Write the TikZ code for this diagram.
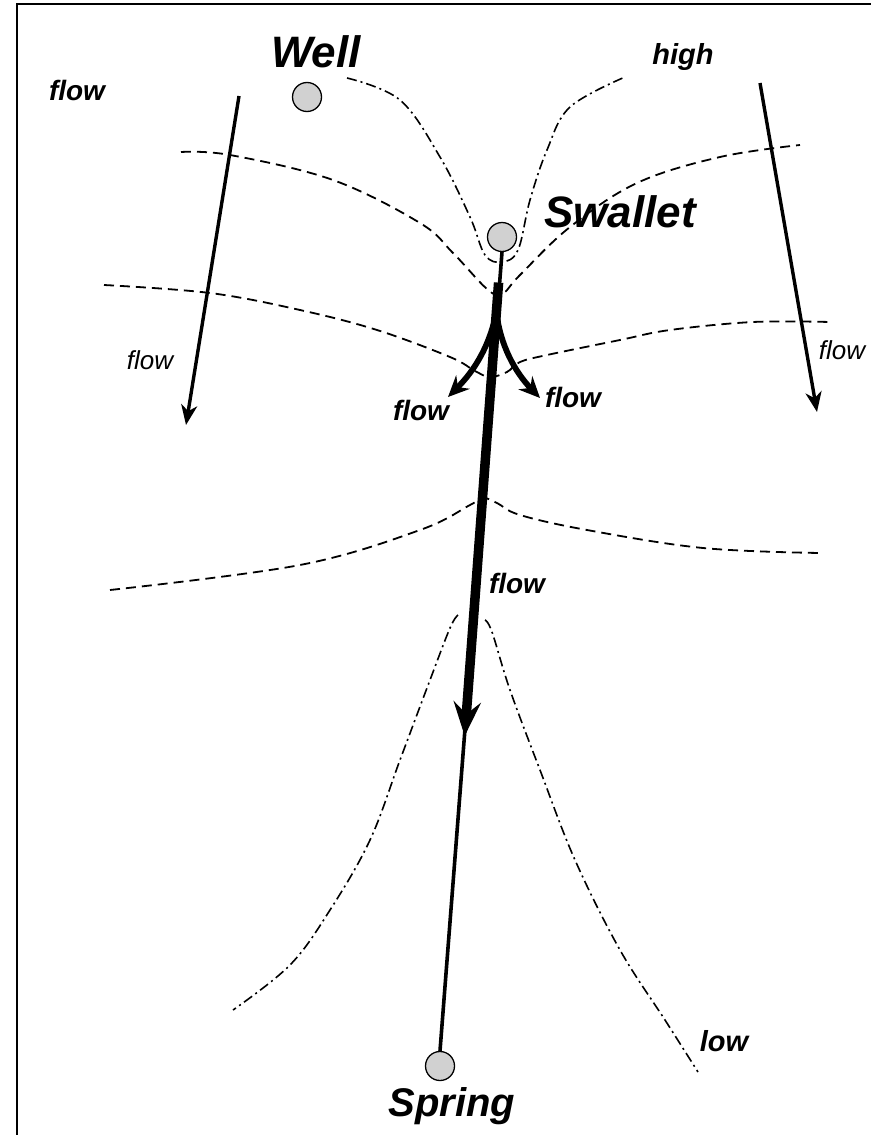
\documentclass[tikz,border=0pt]{standalone}
\usepackage{fontspec}
\setmainfont{Liberation Sans}
\usetikzlibrary{positioning,calc,arrows.meta}

\tikzset{
  site/.style={circle, draw=black, fill=black!18, line width=1.3pt,
               minimum size=29pt, inner sep=0pt},
  sitelabel/.style={font=\fontsize{44}{44}\selectfont\bfseries\itshape},
  flowlabel/.style={font=\fontsize{28}{28}\selectfont\bfseries\itshape},
  flowlight/.style={font=\fontsize{26}{26}\selectfont\itshape},
  levellabel/.style={font=\fontsize{29}{29}\selectfont\bfseries\itshape},
  isodash/.style={line width=1.8pt, dash pattern=on 10pt off 6pt},
  isodot/.style={line width=1.6pt, dash pattern=on 10pt off 4pt on 2pt off 4pt},
  flowarrow/.style={line width=3.4pt, -{Stealth[length=20pt,width=16pt,inset=6pt]}},
}

\begin{document}
\begin{tikzpicture}[x=1pt, y=-1pt]
\useasboundingbox (0,0) rectangle (871,1135);
\draw[line width=2pt] (17,1135) -- (17,4) -- (871,4);

% sites
\node[site] (well) at (307,97) {};
\node[sitelabel] (welltext) at (316,52) {Well};
\node[site] (swallet) at (502,237) {};
\node[sitelabel] (swallettext) at (620,212) {Swallet};
\node[site] (spring) at (440,1066) {};
\node[sitelabel, font=\fontsize{40}{40}\selectfont\bfseries\itshape] (springtext) at (452,1106) {Spring};

% head contours
\draw[isodot] plot[smooth, tension=0.6] coordinates {(347,78) (400,100) (440,157)
  (470,217) (485,255) (502,262) (518,250) (530,200) (547,150) (570,107) (625,77)};
\draw[isodash] plot[smooth, tension=0.6] coordinates {(181,152) (230,155) (333,180)
  (420,223) (453,253) (487,289) (502,294) (520,275) (570,227) (637,183) (720,157) (800,145)};
\draw[isodash] plot[smooth, tension=0.6] coordinates {(104,285) (210,293) (300,310)
  (377,330) (450,357) (475,371) (490,377) (507,372) (520,362) (547,355) (620,340)
  (670,330) (753,322) (830,322)};
\draw[isodash] plot[smooth, tension=0.6] coordinates {(110,590) (300,565) (420,530)
  (470,505) (483,498) (497,503) (520,515) (587,530) (703,548) (820,553)};
\draw[isodot] plot[smooth, tension=0.6] coordinates {(458,615) (450,628) (430,680)
  (400,760) (370,840) (330,910) (290,965) (233,1010)};
\draw[isodot] plot[smooth, tension=0.6] coordinates {(485,620) (492,632) (510,690)
  (540,770) (575,860) (620,950) (665,1020) (698,1072)};
\node[levellabel] (high) at (683,57) {high};
\node[levellabel] (low) at (724,1041) {low};

% conduit
\coordinate (thickstart) at ($(swallet.center)!0.055!(spring.center)$);
\coordinate (forkstart) at ($(swallet.center)!0.09!(spring.center)$);
\coordinate (headtip) at ($(swallet.center)!0.602!(spring.center)$);
\draw[line width=3.6pt] (swallet.south) -- (spring.north);
\draw[line width=9.5pt, -{Stealth[length=34pt,width=27pt,inset=12pt]}] (thickstart) -- (headtip);
\draw[line width=5.8pt, -{Stealth[length=21pt,width=19pt,inset=7pt]}]
  (forkstart) .. controls (490,345) and (475,370) .. (448,397);
\draw[line width=5.8pt, -{Stealth[length=21pt,width=19pt,inset=7pt]}]
  (forkstart) .. controls (500,345) and (515,372) .. (540,398);

% regional flow
\coordinate (lefttop) at (239,96);
\coordinate (lefttip) at (186,425);
\coordinate (righttop) at (760,83);
\coordinate (righttip) at (817,412);
\draw[flowarrow] (lefttop) -- (lefttip);
\draw[flowarrow] (righttop) -- (righttip);

\node[flowlabel] (flowtl) at (77,90) {flow};
\node[flowlight] (flowl) at (150,360) {flow};
\node[flowlight] (flowr) at (842,350) {flow};
\node[flowlabel] (flowfl) at (421,410) {flow};
\node[flowlabel] (flowfr) at (573,397) {flow};
\node[flowlabel] (flowmid) at (517,583) {flow};
\end{tikzpicture}
\end{document}
